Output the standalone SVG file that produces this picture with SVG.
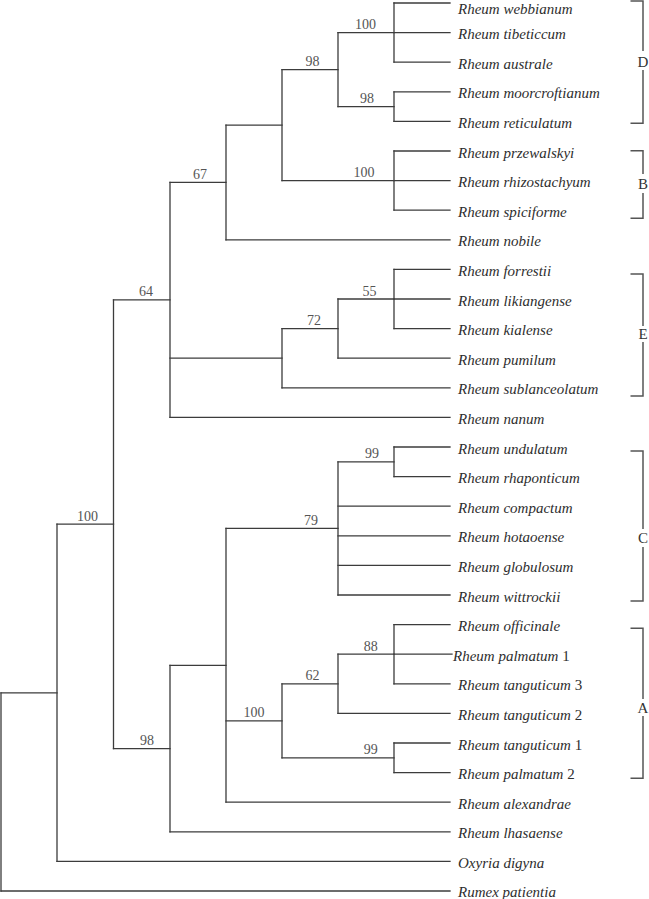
<svg xmlns="http://www.w3.org/2000/svg" width="649" height="899" viewBox="0 0 649 899">
<style>
.br{fill:none;stroke:#3c3c3c;stroke-width:1.3;stroke-linecap:square}
.bk{fill:none;stroke:#555;stroke-width:1.5}
.tx{font-family:"Liberation Serif",serif;font-size:15px;font-style:italic;fill:#2e2e2e}
.tx tspan.n{font-style:normal}
.bs{font-family:"Liberation Serif",serif;font-size:14px;fill:#555;text-anchor:middle}
.cl{font-family:"Liberation Serif",serif;font-size:15px;fill:#333;text-anchor:middle}
</style>
<rect width="649" height="899" fill="#fff"/>
<g id="connectors" class="br">
<path d="M394,3V62.2 M394,91.8V121.4 M338,32.6V106.6 M394,151V210.2 M282,69.6V180.6 M226,125.1V239.8"/>
<path d="M394,269.4V328.6 M338,299V358.2 M282,328.6V387.8 M170,182.45V417.4"/>
<path d="M394,447V476.6 M338,461.8V595 M394,624.6V683.8 M338,654.2V713.4 M394,743V772.6 M282,683.8V757.8 M226,528.4V802.2 M170,665.3V831.8"/>
<path d="M113.5,299.9V748.55 M57,524.2V861.4 M1,692.8V891"/>
<path d="M338,32.6H394 M338,106.6H394 M282,69.6H338 M282,180.6H394 M226,125.1H282 M170,182.45H226"/>
<path d="M338,299H394 M282,328.6H338 M170,358.2H282 M113.5,299.9H170"/>
<path d="M338,461.8H394 M226,528.4H338 M338,654.2H394 M282,683.8H338 M282,757.8H394 M226,720.8H282 M170,665.3H226 M113.5,748.55H170 M57,524.2H113.5 M1,692.8H57"/>
<path d="M394,3H450 M394,32.6H450 M394,62.2H450 M394,91.8H450 M394,121.4H450 M394,151H450 M394,180.6H450 M394,210.2H450 M226,239.8H450"/>
<path d="M394,269.4H450 M394,299H450 M394,328.6H450 M338,358.2H450 M282,387.8H450 M170,417.4H450"/>
<path d="M394,447H450 M394,476.6H450 M338,506.2H450 M338,535.8H450 M338,565.4H450 M338,595H450"/>
<path d="M394,624.6H450 M394,654.2H452 M394,683.8H450 M338,713.4H450 M394,743H450 M394,772.6H450 M226,802.2H450 M170,831.8H450 M57,861.4H450 M1,891H450"/>
</g>
<g id="support">
<text class="bs" x="365.5" y="29.1">100</text>
<text class="bs" x="367" y="103.1">98</text>
<text class="bs" x="312.5" y="66.1">98</text>
<text class="bs" x="364" y="177.1">100</text>
<text class="bs" x="200" y="179">67</text>
<text class="bs" x="369.5" y="295.5">55</text>
<text class="bs" x="314" y="325.1">72</text>
<text class="bs" x="146" y="296.4">64</text>
<text class="bs" x="372" y="458.3">99</text>
<text class="bs" x="311" y="524.9">79</text>
<text class="bs" x="370.7" y="650.7">88</text>
<text class="bs" x="312.5" y="680.3">62</text>
<text class="bs" x="370.7" y="754.3">99</text>
<text class="bs" x="254" y="717.3">100</text>
<text class="bs" x="147" y="745">98</text>
<text class="bs" x="87.5" y="520.7">100</text>
</g>
<g id="taxa" class="tx">
<g id="t0"><text x="458" y="13.5">Rheum webbianum</text></g>
<g id="t1"><text x="458" y="39.1">Rheum tibeticcum</text></g>
<g id="t2"><text x="458" y="68.7">Rheum australe</text></g>
<g id="t3"><text x="458" y="98.3">Rheum moorcroftianum</text></g>
<g id="t4"><text x="458" y="127.9">Rheum reticulatum</text></g>
<g id="t5"><text x="458" y="157.5">Rheum przewalskyi</text></g>
<g id="t6"><text x="458" y="187.1">Rheum rhizostachyum</text></g>
<g id="t7"><text x="458" y="216.7">Rheum spiciforme</text></g>
<g id="t8"><text x="458" y="246.3">Rheum nobile</text></g>
<g id="t9"><text x="458" y="275.9">Rheum forrestii</text></g>
<g id="t10"><text x="458" y="305.5">Rheum likiangense</text></g>
<g id="t11"><text x="458" y="335.1">Rheum kialense</text></g>
<g id="t12"><text x="458" y="364.7">Rheum pumilum</text></g>
<g id="t13"><text x="458" y="394.3">Rheum sublanceolatum</text></g>
<g id="t14"><text x="458" y="423.9">Rheum nanum</text></g>
<g id="t15"><text x="458" y="453.5">Rheum undulatum</text></g>
<g id="t16"><text x="458" y="483.1">Rheum rhaponticum</text></g>
<g id="t17"><text x="458" y="512.7">Rheum compactum</text></g>
<g id="t18"><text x="458" y="542.3">Rheum hotaoense</text></g>
<g id="t19"><text x="458" y="571.9">Rheum globulosum</text></g>
<g id="t20"><text x="458" y="601.5">Rheum wittrockii</text></g>
<g id="t21"><text x="458" y="631.1">Rheum officinale</text></g>
<g id="t22"><text x="453" y="660.7">Rheum palmatum <tspan class="n">1</tspan></text></g>
<g id="t23"><text x="458" y="690.3">Rheum tanguticum <tspan class="n">3</tspan></text></g>
<g id="t24"><text x="458" y="719.9">Rheum tanguticum <tspan class="n">2</tspan></text></g>
<g id="t25"><text x="458" y="749.5">Rheum tanguticum <tspan class="n">1</tspan></text></g>
<g id="t26"><text x="458" y="779.1">Rheum palmatum <tspan class="n">2</tspan></text></g>
<g id="t27"><text x="458" y="808.7">Rheum alexandrae</text></g>
<g id="t28"><text x="458" y="838.3">Rheum lhasaense</text></g>
<g id="t29"><text x="458" y="867.9">Oxyria digyna</text></g>
<g id="t30"><text x="458" y="896.5">Rumex patientia</text></g>
</g>
<g id="clade-D"><path class="bk" d="M630.5,1H643V51 M643,70V123.3H630.5"/><text class="cl" x="643" y="66.5">D</text></g>
<g id="clade-B"><path class="bk" d="M630.5,150.7H643V174 M643,193V218.3H630.5"/><text class="cl" x="643" y="188.5">B</text></g>
<g id="clade-E"><path class="bk" d="M630.5,274H643V326 M643,342V396H630.5"/><text class="cl" x="643" y="338.5">E</text></g>
<g id="clade-C"><path class="bk" d="M630.5,451H643V529 M643,547V601H630.5"/><text class="cl" x="643" y="543">C</text></g>
<g id="clade-A"><path class="bk" d="M630.5,628.3H643V699 M643,716V778.3H630.5"/><text class="cl" x="643" y="712.5">A</text></g>
</svg>
